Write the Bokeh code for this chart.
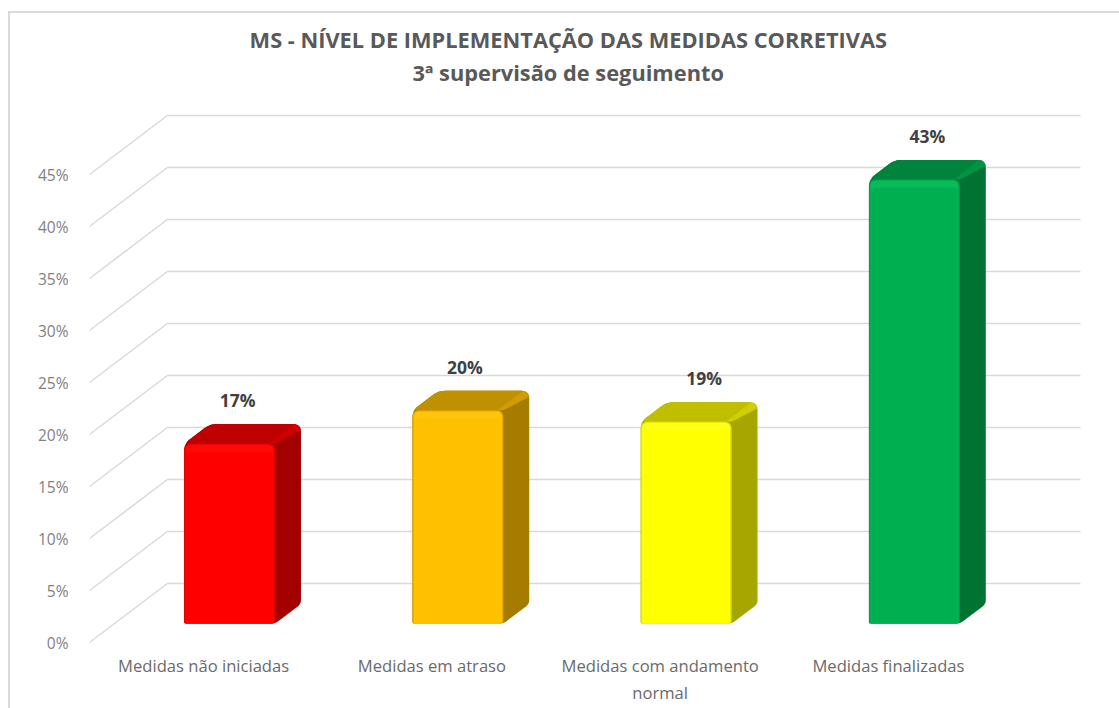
import numpy as np
from bokeh.plotting import figure
from bokeh.models import Range1d, FixedTicker
from bokeh.core.properties import value
from bokeh.embed import file_html
from bokeh.resources import INLINE

categories = ["Medidas não iniciadas", "Medidas em atraso", "Medidas com andamento\nnormal", "Medidas finalizadas"]
values = [17.3, 20.5, 19.4, 42.7]
labels = ["17%", "20%", "19%", "43%"]
y_ticks = [0, 5, 10, 15, 20, 25, 30, 35, 40, 45]
front_colors = ["#ff0000", "#ffc000", "#ffff00", "#00b050"]
top_colors = ["#bf0000", "#bf9000", "#bfbf00", "#00843c"]
side_colors = ["#a30000", "#a67c00", "#a6a600", "#007232"]
edge_colors = ["#d00000", "#d09c00", "#d0d000", "#009444"]
glow_colors = ["#ff0808", "#ffc40c", "#ffff18", "#08ba5a"]
rim_colors = ["#e60000", "#e6ac00", "#e6e600", "#00a048"]
title_lines = ["MS - NÍVEL DE IMPLEMENTAÇÃO DAS MEDIDAS CORRETIVAS", "3ª supervisão de seguimento"]

PX_X = 228.5          # pixels per category
PX_Y = 10.4           # pixels per percentage point
DEPTH_X = 78 / PX_X   # wall depth in data units
DEPTH_Y = 59 / PX_Y
BAR_FRONT = 0.32
BAR_BACK = 0.653
BAR_SHIFT = 1 / PX_X
HALF_W = 45.5 / PX_X
LABEL_DX = [9, 8, 19, 14]  # px from front centre of the bar
LABEL_DY = 24              # px above the back top edge
TITLE_X = 365 / PX_X       # title centre, px right of the first category
TITLE_DY = [603, 570]      # px above the 0% front line


def proj(x, y, d):
    return x + d * DEPTH_X, y + d * DEPTH_Y


def round_poly(pts, radii):
    """Closed polygon with rounded corners, radii in pixels, points in data units."""
    P = np.array(pts, dtype=float) * [PX_X, PX_Y]
    n = len(P)
    xs, ys = [], []
    for k in range(n):
        a, b, c = P[k - 1], P[k], P[(k + 1) % n]
        r = radii[k]
        u = (a - b) / np.linalg.norm(a - b)
        w = (c - b) / np.linalg.norm(c - b)
        s, e = b + u * r, b + w * r
        for t in np.linspace(0, 1, 7):
            q = (1 - t) ** 2 * s + 2 * t * (1 - t) * b + t ** 2 * e
            xs.append(q[0] / PX_X)
            ys.append(q[1] / PX_Y)
    return xs, ys


p = figure(width=1109, height=695, output_backend="svg", toolbar_location=None,
           x_range=Range1d(-0.5, 3.5 + 88 / PX_X), y_range=Range1d(-1 / PX_Y, 629 / PX_Y),
           frame_width=1001, frame_height=630,
           min_border_left=79, min_border_right=29, min_border_top=0, min_border_bottom=65)
p.styles = {"margin-left": "8px", "margin-top": "11px",
            "border-left": "2px solid #d9d9d9", "border-top": "2px solid #d9d9d9"}
p.background_fill_color = "white"
p.border_fill_color = "white"
p.outline_line_color = None
p.grid.visible = False

# title
p.text([TITLE_X, TITLE_X], [d / PX_Y for d in TITLE_DY], text=title_lines,
       text_align="center", text_baseline="middle", text_font=value("Open Sans"),
       text_font_style="bold", text_font_size="21.8px", text_color="#595959")

# axes
p.yaxis.ticker = FixedTicker(ticks=y_ticks)
p.yaxis.major_label_overrides = {t: f"{t}%" for t in y_ticks}
p.yaxis.axis_line_color = None
p.yaxis.major_tick_line_color = None
p.yaxis.minor_tick_line_color = None
p.yaxis.major_label_standoff = 15
p.yaxis.major_label_text_font = "Open Sans"
p.yaxis.major_label_text_font_size = "15.5px"
p.yaxis.major_label_text_color = "#7f7f7f"

p.xaxis.ticker = FixedTicker(ticks=list(range(len(categories))))
p.xaxis.major_label_overrides = {i: c for i, c in enumerate(categories)}
p.xaxis.axis_line_color = None
p.xaxis.major_tick_line_color = None
p.xaxis.minor_tick_line_color = None
p.xaxis.major_label_standoff = 4
p.xaxis.major_label_text_font = "Open Sans"
p.xaxis.major_label_text_font_size = "16.6px"
p.xaxis.major_label_text_color = "#6a6a6a"

# wall and floor grid
gx, gy = [], []
for t in y_ticks:
    bx, by = proj(-0.5, t, 1)
    ex, ey = proj(3.5, t, 1)
    gx.append([-0.5, bx, ex])
    gy.append([t, by, ey])
p.multi_line(gx, gy, line_color="#d9d9d9", line_width=1.5)

for i, v in enumerate(values):
    c = i + BAR_SHIFT
    fx0, fy0 = proj(c - HALF_W, 0, BAR_FRONT)
    fx1, fy1 = proj(c + HALF_W, v, BAR_FRONT)
    bx0, by0 = proj(c - HALF_W, 0, BAR_BACK)
    bx1, by1 = proj(c + HALF_W, v, BAR_BACK)
    bev_x, bev_y = 6 / PX_X, 9 / PX_Y

    # whole silhouette in the side colour
    xs, ys = round_poly([(fx0, fy0), (fx0, fy1), (bx0, by1), (bx1, by1), (bx1, by0), (fx1, fy0)], [2, 7, 7, 8, 4, 4])
    p.patch(xs, ys, fill_color=side_colors[i], line_color=None)
    # top face
    xs, ys = round_poly([(fx0, fy1), (bx0, by1), (bx1, by1), (bx1, by1 - 6 / PX_Y), (fx1, fy1)], [7, 7, 8, 1, 3])
    p.patch(xs, ys, fill_color=edge_colors[i], line_color=None)
    xs, ys = round_poly([(fx0, fy1), (bx0, by1), (bx1 - bev_x, by1), (fx1 - bev_x, fy1)], [7, 7, 2, 2])
    p.patch(xs, ys, fill_color=top_colors[i], line_color=None)
    # front face
    xs, ys = round_poly([(fx0, fy0), (fx0, fy1), (fx1, fy1), (fx1, fy0)], [2, 7, 7, 3])
    p.patch(xs, ys, fill_color=rim_colors[i], line_color=None)
    xs, ys = round_poly([(fx0 + 1.5 / PX_X, fy0), (fx0 + 1.5 / PX_X, fy1 - 1 / PX_Y), (fx1 - 1.5 / PX_X, fy1 - 1 / PX_Y), (fx1 - 1.5 / PX_X, fy0)],
                        [1, 6, 6, 2])
    p.patch(xs, ys, fill_color=glow_colors[i], line_color=None)
    xs, ys = round_poly([(fx0 + 2.5 / PX_X, fy0), (fx0 + 2.5 / PX_X, fy1 - bev_y * 0.9), (fx1 - 2.5 / PX_X, fy1 - bev_y * 0.9), (fx1 - 2.5 / PX_X, fy0)],
                        [1, 3, 3, 2])
    p.patch(xs, ys, fill_color=front_colors[i], line_color=None)
    # data label
    p.text([i + (BAR_FRONT * 78 + LABEL_DX[i]) / PX_X], [by1 + LABEL_DY / PX_Y], text=[labels[i]],
           text_align="center", text_baseline="middle", text_font=value("Open Sans"),
           text_font_style="bold", text_font_size="17.5px", text_color="#404040")

open("out.html", "w").write(file_html(p, INLINE))
